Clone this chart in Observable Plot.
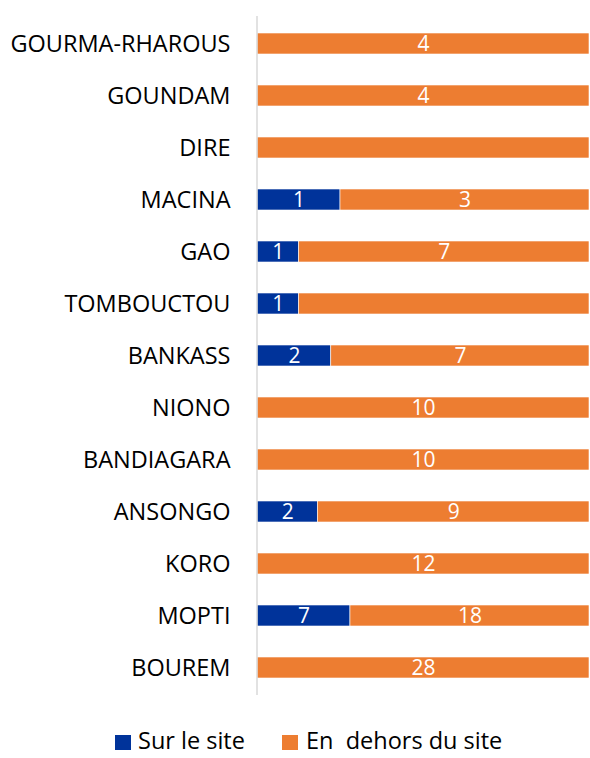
<!DOCTYPE html>
<html>
<head>
<meta charset="utf-8">
<script src="https://cdn.jsdelivr.net/npm/d3@7"></script>
<script src="https://cdn.jsdelivr.net/npm/@observablehq/plot@0.6"></script>
<style>
  body { margin: 0; background: #fff; font-family: "Open Sans", sans-serif; position: relative; width: 590px; height: 758px; overflow: hidden; }
  #chart { position: absolute; left: 0; top: 0; }
  .sw { position: absolute; width: 16px; height: 15px; top: 735px; }
  .lt { position: absolute; top: 729px; font-size: 23.5px; line-height: 1; color: #000; white-space: pre; }
</style>
</head>
<body>
<div id="chart"></div>
<div id="legend"></div>
<script>
const categories = ["GOURMA-RHAROUS","GOUNDAM","DIRE","MACINA","GAO","TOMBOUCTOU","BANKASS","NIONO","BANDIAGARA","ANSONGO","KORO","MOPTI","BOUREM"];
const surSite =    [0, 0, 0, 1, 1, 1, 2, 0, 0, 2, 0, 7, 0];
const horsSite =   [4, 4, 3, 3, 7, 7, 7, 10, 10, 9, 12, 18, 28];
const hiddenLabels = ["DIRE", "TOMBOUCTOU"]; // orange segment shown without its value label
const seriesNames = ["Sur le site", "En  dehors du site"];
const seriesColors = ["#00339A", "#ED7D31"];

const data = [];
categories.forEach((c, i) => {
  data.push({cat: c, series: seriesNames[0], value: surSite[i], label: surSite[i] > 0 ? String(surSite[i]) : ""});
  data.push({cat: c, series: seriesNames[1], value: horsSite[i], label: (horsSite[i] > 0 && !hiddenLabels.includes(c)) ? String(horsSite[i]) : ""});
});

const chart = Plot.plot({
  width: 590,
  height: 700,
  marginLeft: 257,
  marginRight: 1,
  marginTop: 16,
  marginBottom: 5,
  style: {fontFamily: "Open Sans, sans-serif", color: "#000", background: "#fff"},
  x: {axis: null},
  y: {domain: categories, paddingInner: 0.6, paddingOuter: 0.3, axis: null},
  color: {domain: seriesNames, range: seriesColors},
  marks: [
    Plot.axisY({fontSize: 23.5, tickSize: 0, tickPadding: 27, label: null, fill: "#000"}),
    Plot.barX(data, Plot.stackX({x: "value", y: "cat", fill: "series", z: "series", offset: "normalize", stroke: "white", strokeWidth: 0.6})),
    Plot.text(data, Plot.stackX({x: "value", y: "cat", z: "series", offset: "normalize", text: "label", fill: "white", fontSize: 21})),
    Plot.ruleX([0], {stroke: "#D9D9D9", strokeWidth: 1.5, dx: -0.5})
  ]
});
document.getElementById("chart").appendChild(chart);

const legend = document.getElementById("legend");
const swX = [115, 282];
const txtX = [138, 306];
seriesNames.forEach((s, i) => {
  const sw = document.createElement("div");
  sw.className = "sw";
  sw.style.left = swX[i] + "px";
  sw.style.background = seriesColors[i];
  const t = document.createElement("div");
  t.className = "lt";
  t.style.left = txtX[i] + "px";
  t.textContent = s;
  legend.appendChild(sw);
  legend.appendChild(t);
});
</script>
</body>
</html>
